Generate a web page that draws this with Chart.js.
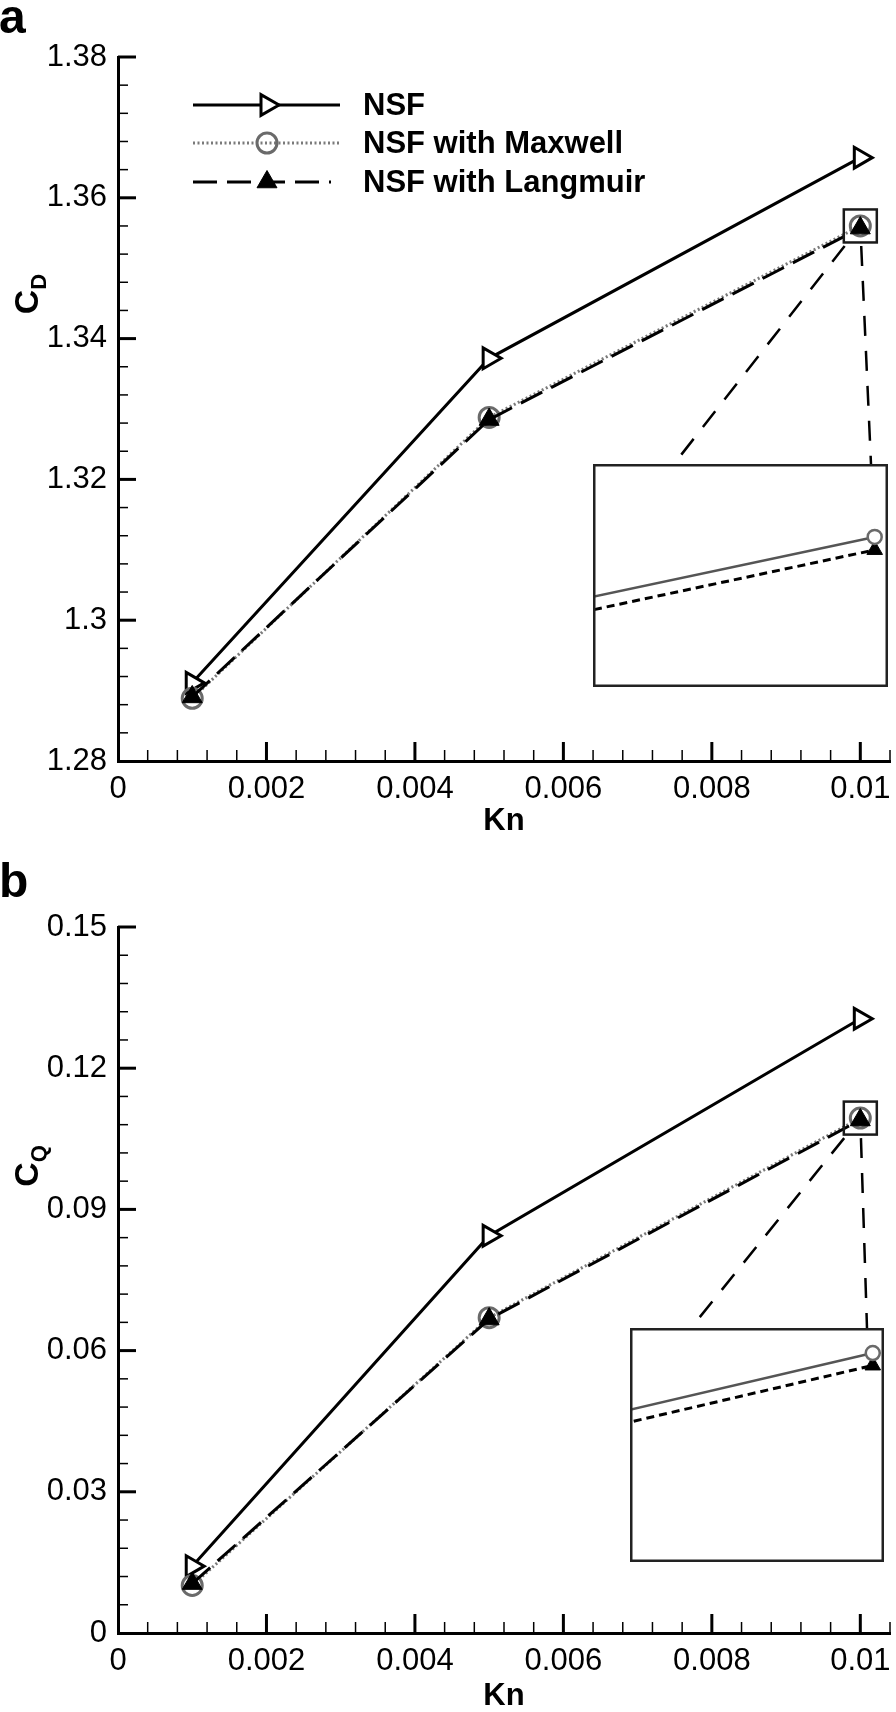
<!DOCTYPE html>
<html>
<head>
<meta charset="utf-8">
<script src="https://cdn.jsdelivr.net/npm/chart.js@4.4.1/dist/chart.umd.min.js"></script>
<style>
html,body{margin:0;padding:0;background:#fff;}
#wrap{position:relative;width:896px;height:1712px;overflow:hidden;background:#fff;}
canvas{position:absolute;display:block;}
</style>
</head>
<body>
<div id="wrap">
  <canvas id="ca" width="896" height="856" style="left:0;top:0;width:896px;height:856px;"></canvas>
  <canvas id="cb" width="896" height="856" style="left:0;top:856px;width:896px;height:856px;"></canvas>
  <canvas id="ia" width="295" height="223" style="left:593px;top:464px;width:295px;height:223px;background:#fff;"></canvas>
  <canvas id="ib" width="254" height="234" style="left:630px;top:1328px;width:254px;height:234px;background:#fff;"></canvas>
</div>
<script>
// ---------------- data ----------------
const KN = [0.001, 0.005, 0.01];
const SERIES_NAMES = ['NSF', 'NSF with Maxwell', 'NSF with Langmuir'];

const CD_NSF      = [1.2911, 1.3372, 1.3657];
const CD_MAXWELL  = [1.2889, 1.3288, 1.3560];
const CD_LANGMUIR = [1.2891, 1.3285, 1.3557];

const CQ_NSF      = [0.0142, 0.0844, 0.1305];
const CQ_MAXWELL  = [0.0101, 0.0670, 0.1094];
const CQ_LANGMUIR = [0.0105, 0.0667, 0.1090];

const X_TICKS = [0, 0.002, 0.004, 0.006, 0.008, 0.01];
const X_TICK_LABELS = ['0', '0.002', '0.004', '0.006', '0.008', '0.01'];
const X_MAX = 0.0104;

const CD_TICKS = [1.28, 1.30, 1.32, 1.34, 1.36, 1.38];
const CD_TICK_LABELS = ['1.28', '1.3', '1.32', '1.34', '1.36', '1.38'];
const CQ_TICKS = [0, 0.03, 0.06, 0.09, 0.12, 0.15];
const CQ_TICK_LABELS = ['0', '0.03', '0.06', '0.09', '0.12', '0.15'];

// zoomed windows shown in the insets
const INSET_A_X = [0.009746, 0.010012];
const INSET_A_Y = [1.352537, 1.357683];
const INSET_B_X = [0.009784, 0.010010];
const INSET_B_Y = [0.10266, 0.110208];

// ---------------- styles ----------------
const FONT = "'Liberation Sans', Arial, Helvetica, sans-serif";
const STYLE = {
  nsf: {borderColor:'#000', borderWidth:3, pointStyle:'triangle', pointRotation:90, pointRadius:12,
        pointBorderWidth:3, pointBorderColor:'#000', pointBackgroundColor:'#fff'},
  max: {borderColor:'#7a7a7a', borderWidth:3, borderDash:[2,2.5], pointStyle:'circle', pointRadius:10,
        pointBorderWidth:3, pointBorderColor:'#6a6a6a', pointBackgroundColor:'rgba(0,0,0,0)'},
  lan: {borderColor:'#000', borderWidth:3, borderDash:[24,10], pointStyle:'triangle', pointRotation:0, pointRadius:11.5,
        pointBorderWidth:1, pointBorderColor:'#000', pointBackgroundColor:'#000'}
};

const toXY = ys => KN.map((x, i) => ({x: x, y: ys[i]}));

function drawMarker(ctx, st, x, y) {
  ctx.save();
  ctx.lineWidth = st.pointBorderWidth;
  ctx.strokeStyle = st.pointBorderColor;
  ctx.fillStyle = st.pointBackgroundColor;
  ctx.beginPath();
  const r = st.pointRadius;
  if (st.pointStyle === 'circle') {
    ctx.arc(x, y, r, 0, Math.PI * 2);
  } else {
    let rad = (st.pointRotation || 0) * Math.PI / 180;
    for (let k = 0; k < 3; k++) {
      const px = x + Math.sin(rad) * r, py = y - Math.cos(rad) * r;
      if (k === 0) ctx.moveTo(px, py); else ctx.lineTo(px, py);
      rad += 2 * Math.PI / 3;
    }
    ctx.closePath();
  }
  ctx.fill();
  if (st.pointBorderWidth > 0) ctx.stroke();
  ctx.restore();
}

function drawYTitle(ctx, main, sub, cx, cy) {
  ctx.save();
  ctx.translate(cx, cy);
  ctx.rotate(-Math.PI / 2);
  ctx.fillStyle = '#000';
  ctx.textBaseline = 'alphabetic';
  ctx.textAlign = 'left';
  const f1 = 'bold 34px ' + FONT, f2 = 'bold 22px ' + FONT;
  ctx.font = f1; const w1 = ctx.measureText(main).width;
  ctx.font = f2; const w2 = ctx.measureText(sub).width;
  const x0 = -(w1 + w2) / 2;
  ctx.font = f1; ctx.fillText(main, x0, 0);
  ctx.font = f2; ctx.fillText(sub, x0 + w1, 8);
  ctx.restore();
}

function makeMain(cfg) {
  const yStep = cfg.yTicks[1] - cfg.yTicks[0];
  const deco = {
    id: 'deco_' + cfg.id,
    beforeDatasetsDraw(chart) {
      const ctx = chart.ctx, xs = chart.scales.x, ys = chart.scales.y, a = chart.chartArea;
      ctx.save();
      ctx.strokeStyle = '#000';
      // x ticks (inward)
      const xMinor = 0.0004;
      for (let k = 1; k * xMinor <= X_MAX + 1e-9; k++) {
        const v = k * xMinor;
        const major = (k % 5 === 0);
        const px = xs.getPixelForValue(v);
        ctx.lineWidth = major ? 3 : 1.5;
        ctx.beginPath();
        ctx.moveTo(px, a.bottom);
        ctx.lineTo(px, a.bottom - (major ? 19 : 11));
        ctx.stroke();
      }
      // y ticks (inward)
      const yMinor = yStep / 5;
      const n = Math.round((cfg.yTicks[cfg.yTicks.length - 1] - cfg.yTicks[0]) / yMinor);
      for (let k = 1; k <= n; k++) {
        const v = cfg.yTicks[0] + k * yMinor;
        const major = (k % 5 === 0);
        const py = ys.getPixelForValue(v);
        ctx.lineWidth = major ? 3 : 1.5;
        ctx.beginPath();
        ctx.moveTo(a.left, py);
        ctx.lineTo(a.left + (major ? 18 : 10), py);
        ctx.stroke();
      }
      ctx.restore();
    },
    afterDatasetsDraw(chart) {
      const ctx = chart.ctx, xs = chart.scales.x, ys = chart.scales.y;
      const px = xs.getPixelForValue(KN[2]);
      const py = ys.getPixelForValue(cfg.max[2]);
      ctx.save();
      ctx.strokeStyle = '#1a1a1a';
      ctx.lineWidth = 2.5;
      ctx.strokeRect(px - 16.5, py - 16.5, 33, 33);
      // connectors towards inset
      const ins = cfg.inset;
      const ends = [[ins.left + ins.c1, ins.top], [ins.left + ins.w - 17, ins.top]];
      ctx.strokeStyle = '#000';
      ctx.lineWidth = 2.5;
      ctx.setLineDash([20, 15]);
      ends.forEach(e => {
        const t0 = 20 / (e[1] - py);
        ctx.beginPath();
        ctx.moveTo(px + (e[0] - px) * t0, py + (e[1] - py) * t0);
        ctx.lineTo(e[0], e[1]);
        ctx.stroke();
      });
      ctx.restore();
    },
    afterDraw(chart) {
      const ctx = chart.ctx;
      // panel letter
      ctx.save();
      ctx.fillStyle = '#000';
      ctx.font = 'bold 48px ' + FONT;
      ctx.textBaseline = 'alphabetic';
      ctx.textAlign = 'left';
      ctx.fillText(cfg.letter, -1, cfg.letterY);
      ctx.restore();
      drawYTitle(ctx, cfg.yTitle[0], cfg.yTitle[1], 38, cfg.yTitleY);
      if (cfg.legend) {
        const rows = [[SERIES_NAMES[0], STYLE.nsf], [SERIES_NAMES[1], STYLE.max], [SERIES_NAMES[2], STYLE.lan]];
        const ys0 = [105, 143, 182];
        rows.forEach((r, i) => {
          const st = r[1], y = ys0[i];
          ctx.save();
          ctx.strokeStyle = st.borderColor;
          ctx.lineWidth = st.borderWidth;
          ctx.setLineDash(st.borderDash || []);
          ctx.beginPath();
          ctx.moveTo(193, y);
          ctx.lineTo(i === 2 ? 331 : 340, y);
          ctx.stroke();
          ctx.restore();
          drawMarker(ctx, st, 267, y);
          ctx.save();
          ctx.fillStyle = '#000';
          ctx.font = 'bold 31px ' + FONT;
          ctx.textBaseline = 'middle';
          ctx.textAlign = 'left';
          ctx.fillText(r[0], 363, y + 1);
          ctx.restore();
        });
      }
    }
  };

  return new Chart(document.getElementById(cfg.id), {
    type: 'line',
    data: {
      datasets: [
        Object.assign({label: SERIES_NAMES[0], data: toXY(cfg.nsf), order: 2, tension: 0}, STYLE.nsf),
        Object.assign({label: SERIES_NAMES[1], data: toXY(cfg.max), order: 1, tension: 0}, STYLE.max),
        Object.assign({label: SERIES_NAMES[2], data: toXY(cfg.lan), order: 0, tension: 0}, STYLE.lan)
      ]
    },
    options: {
      responsive: false, animation: false, devicePixelRatio: 1, events: [],
      layout: {autoPadding: false, padding: {left: 0, top: cfg.padTop, right: 6, bottom: 0}},
      plugins: {legend: {display: false}, tooltip: {enabled: false}},
      scales: {
        x: {
          type: 'linear', min: 0, max: X_MAX,
          afterBuildTicks: s => { s.ticks = X_TICKS.map(v => ({value: v})); },
          afterFit: s => { s.height = cfg.xAxisH; s.paddingLeft = 0; s.paddingRight = 0; },
          ticks: {autoSkip: false, maxRotation: 0, minRotation: 0, padding: 10, color: '#000',
                  font: {family: FONT, size: 31}, callback: (v, i) => X_TICK_LABELS[i]},
          grid: {display: false, drawTicks: false},
          border: {display: true, color: '#000', width: 3},
          title: {display: true, text: 'Kn', color: '#000',
                  font: {family: FONT, size: 31, weight: 'bold', lineHeight: 1},
                  padding: {top: 0, bottom: cfg.knPad}}
        },
        y: {
          type: 'linear', min: cfg.yTicks[0], max: cfg.yTicks[cfg.yTicks.length - 1],
          afterBuildTicks: s => { s.ticks = cfg.yTicks.map(v => ({value: v})); },
          afterFit: s => { s.width = 118; s.paddingTop = 0; s.paddingBottom = 0; },
          ticks: {autoSkip: false, padding: 11, color: '#000', font: {family: FONT, size: 31},
                  callback: (v, i) => cfg.yLabels[i]},
          grid: {display: false, drawTicks: false},
          border: {display: true, color: '#000', width: 3}
        }
      }
    },
    plugins: [deco]
  });
}

function makeInset(id, xr, yr, maxData, lanData) {
  const frame = {
    id: 'frame_' + id,
    afterDraw(chart) {
      const ctx = chart.ctx;
      ctx.save();
      ctx.strokeStyle = '#222';
      ctx.lineWidth = 2.5;
      ctx.strokeRect(1.25, 1.25, chart.width - 2.5, chart.height - 2.5);
      ctx.restore();
    }
  };
  return new Chart(document.getElementById(id), {
    type: 'line',
    data: {
      datasets: [
        {label: SERIES_NAMES[1], data: toXY(maxData), order: 0, tension: 0,
         borderColor: '#555', borderWidth: 2.5, pointStyle: 'circle', pointRadius: 7,
         pointBorderColor: '#6a6a6a', pointBorderWidth: 2.5, pointBackgroundColor: '#fff'},
        {label: SERIES_NAMES[2], data: toXY(lanData), order: 1, tension: 0,
         borderColor: '#000', borderWidth: 3, borderDash: [8, 5], pointStyle: 'triangle', pointRadius: 9,
         pointBorderColor: '#000', pointBorderWidth: 1, pointBackgroundColor: '#000'}
      ]
    },
    options: {
      responsive: false, animation: false, devicePixelRatio: 1, events: [],
      layout: {autoPadding: false, padding: 0},
      plugins: {legend: {display: false}, tooltip: {enabled: false}},
      scales: {
        x: {type: 'linear', display: false, min: xr[0], max: xr[1]},
        y: {type: 'linear', display: false, min: yr[0], max: yr[1]}
      }
    },
    plugins: [frame]
  });
}

makeMain({
  id: 'ca', letter: 'a', letterY: 33, nsf: CD_NSF, max: CD_MAXWELL, lan: CD_LANGMUIR,
  yTicks: CD_TICKS, yLabels: CD_TICK_LABELS, yTitle: ['C', 'D'], yTitleY: 294,
  padTop: 57, xAxisH: 95, knPad: 19, legend: true,
  inset: {left: 593, top: 464, w: 295, c1: 81}
});
makeMain({
  id: 'cb', letter: 'b', letterY: 41, nsf: CQ_NSF, max: CQ_MAXWELL, lan: CQ_LANGMUIR,
  yTicks: CQ_TICKS, yLabels: CQ_TICK_LABELS, yTitle: ['C', 'Q'], yTitleY: 310,
  padTop: 71, xAxisH: 79, knPad: 0, legend: false,
  inset: {left: 630, top: 472, w: 254, c1: 61}
});
makeInset('ia', INSET_A_X, INSET_A_Y, CD_MAXWELL, CD_LANGMUIR);
makeInset('ib', INSET_B_X, INSET_B_Y, CQ_MAXWELL, CQ_LANGMUIR);
</script>
</body>
</html>
